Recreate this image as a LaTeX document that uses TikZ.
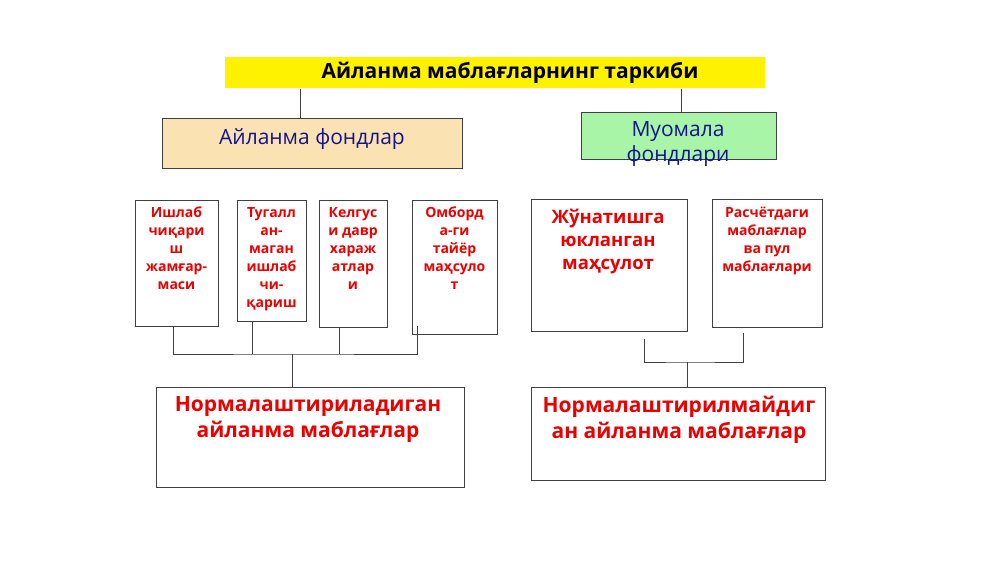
\documentclass[tikz,border=0pt]{standalone}
\usepackage{fontspec}
\setmainfont{Open Sans}
\usepackage{tikz}
\usepackage{xcolor}
\definecolor{fondblue}{RGB}{20,20,140}
\definecolor{wheatbox}{RGB}{250,226,178}
\definecolor{greenbox}{RGB}{168,245,168}
\definecolor{redtext}{RGB}{235,0,0}

\begin{document}
\begin{tikzpicture}%
  [x=1pt,y=-1pt,
   box/.style={rectangle,draw=black!75,line width=0.8pt,anchor=north west,inner sep=0},
   txt/.style={align=center,inner sep=0}]
  \tikzstyle{red node}=[txt,anchor=north,text=redtext,font=\bfseries\fontsize{14}{18}\selectfont]
  \tikzstyle{big node}=[txt,anchor=north,text=redtext,font=\bfseries\fontsize{21}{26}\selectfont]
  \tikzstyle{fond node}=[txt,text=fondblue,font=\fontsize{21}{25}\selectfont]
  \useasboundingbox (0,0) rectangle (1000,562);
  \node(top)[box,draw=none,fill=yellow,minimum width=540,minimum height=31] at (225,57){};
  \node(topt)[txt,font=\bfseries\fontsize{21}{25}\selectfont] at (510,73)
    {Айланма маблағларнинг таркиби};
  \node(af)[box,fill=wheatbox,minimum width=300,minimum height=50] at (162,118){};
  \node(aft)[fond node] at (312,139){Айланма фондлар};
  \node(mf)[box,fill=greenbox,minimum width=195,minimum height=47] at (581,112){};
  \node(mft)[fond node] at (678,144){Муомала\\фондлари};
  \node(a1)[box,minimum width=83,minimum height=126] at (135,200){};
  \node(a1t)[red node] at (176.5,207){Ишлаб\\чиқари\\ш\\жамғар-\\маси};
  \node(a2)[box,minimum width=69,minimum height=121] at (237,200){};
  \node(a2t)[red node] at (271.5,207){Тугалл\\ан-\\маган\\ишлаб\\чи-\\қариш};
  \node(a3)[box,minimum width=68,minimum height=127] at (319,200){};
  \node(a3t)[red node] at (353,207){Келгус\\и давр\\хараж\\атлар\\и};
  \node(a4)[box,minimum width=85,minimum height=134] at (412,200){};
  \node(a4t)[red node] at (454.5,207){Омборд\\а-ги\\тайёр\\маҳсуло\\т};
  \node(m1)[box,minimum width=156,minimum height=132] at (531,199){};
  \node(m1t)[red node,font=\bfseries\fontsize{18.5}{23}\selectfont] at (608,209)
    {Жўнатишга\\юкланган\\маҳсулот};
  \node(m2)[box,minimum width=110,minimum height=128] at (712,199){};
  \node(m2t)[red node] at (767,207){Расчётдаги\\маблағлар\\ва пул\\маблағлари};
  \node(na)[box,minimum width=308,minimum height=100] at (156,387){};
  \node(nat)[big node] at (308,396){Нормалаштириладиган\\айланма маблағлар};
  \node(nm)[box,minimum width=294,minimum height=93] at (531,387){};
  \node(nmt)[big node] at (679,396){Нормалаштирилмайдиг\\ан айланма маблағлар};
  \coordinate(ja) at (292,354);
  \coordinate(jm) at (687,362);
  \begin{scope}[draw=black!75,line width=0.8pt]
    \draw ([xshift=-12]af.north) -- ([xshift=-12]af.north |- top.south);
    \draw ([xshift=2.5]mf.north) -- ([xshift=2.5]mf.north |- top.south);
    \draw ([xshift=-3.5]a1.south) |- (ja) -| ([xshift=-37.5,yshift=9]a4.south);
    \draw ([xshift=-19.5]a2.south) -- ([xshift=-19.5]a2.south |- ja);
    \draw ([xshift=-14]a3.south) -- ([xshift=-14]a3.south |- ja);
    \draw (ja) -- (ja |- na.north);
    \draw ([xshift=35,yshift=-7]m1.south) |- (jm) -| ([xshift=-24,yshift=-5]m2.south);
    \draw (jm) -- (jm |- nm.north);
  \end{scope}
\end{tikzpicture}
\end{document}
